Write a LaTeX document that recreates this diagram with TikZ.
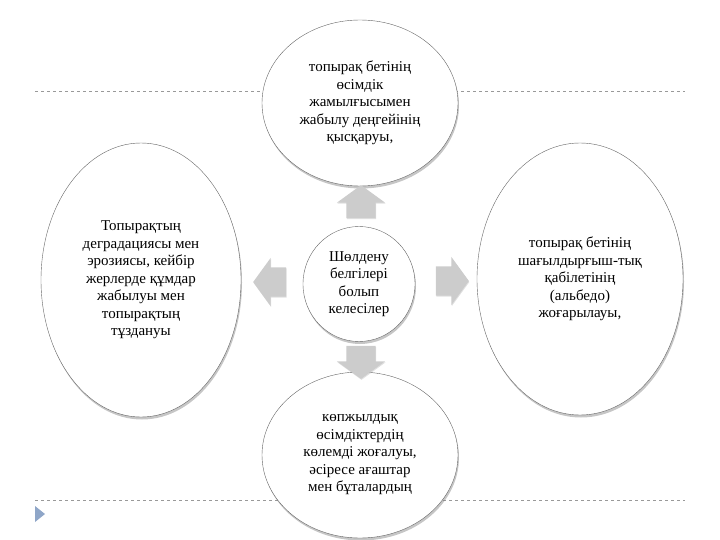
\documentclass[tikz,border=0pt]{standalone}
\usepackage{fontspec}
\setmainfont{Liberation Serif}
\usetikzlibrary{shapes.geometric,shapes.arrows,shadows}
\definecolor{bulletblue}{HTML}{8FA6C8}
\begin{document}
\begin{tikzpicture}[
    x=1pt, y=-1pt,
    sign/.style={
        ellipse,
        draw=black!60,
        fill=white,
        inner sep=0pt,
        align=center,
        font=\fontsize{15}{17.5}\selectfont,
        drop shadow={shadow xshift=1pt, shadow yshift=-2.5pt, fill=black!50, opacity=0.45}
    },
    hub/.style={
        sign,
        minimum width=112pt,
        minimum height=115pt
    },
    push/.style={
        single arrow,
        fill=black!20,
        draw=none,
        inner xsep=0pt,
        inner ysep=14.5pt,
        minimum height=33pt,
        single arrow head extend=9.5pt,
        single arrow tip angle=108,
        drop shadow={shadow xshift=0.5pt, shadow yshift=-1pt, fill=black!40, opacity=0.3}
    },
    guide/.style={dashed, draw=black!40, thin}
]
    \useasboundingbox (0,0) rectangle (720,540);

    \draw[guide] (35,91) -- (685,91);
    \draw[guide] (35,500) -- (685,500);
    \fill[bulletblue] (35,506) -- (45,514) -- (35,522) -- cycle;

    \node[sign, minimum width=196pt, minimum height=166pt] (cover) at (360,103)
        {топырақ бетінің\\өсімдік\\жамылғысымен\\жабылу деңгейінің\\қысқаруы,};
    \node[sign, minimum width=200pt, minimum height=274pt] (erosion) at (141,280)
        {Топырақтың\\деградациясы мен\\эрозиясы, кейбір\\жерлерде құмдар\\жабылуы мен\\топырақтың\\тұздануы};
    \node[sign, minimum width=206pt, minimum height=272pt] (albedo) at (580,279)
        {топырақ бетінің\\шағылдырғыш-тық\\қабілетінің\\(альбедо)\\жоғарылауы,};
    \node[sign, minimum width=196pt, minimum height=166pt] (shrubs) at (360,455)
        {көпжылдық\\өсімдіктердің\\көлемді жоғалуы,\\әсіресе ағаштар\\мен бұталардың};

    \node[hub] (signs) at (359,284) {Шөлдену\\белгілері\\болып\\келесілер};

    \node[push, rotate=90] (toCover) at (361,207) {};
    \node[push, rotate=180] (toErosion) at (275,282) {};
    \node[push] (toAlbedo) at (447,281) {};
    \node[push, rotate=-90] (toShrubs) at (361,357) {};
\end{tikzpicture}
\end{document}
